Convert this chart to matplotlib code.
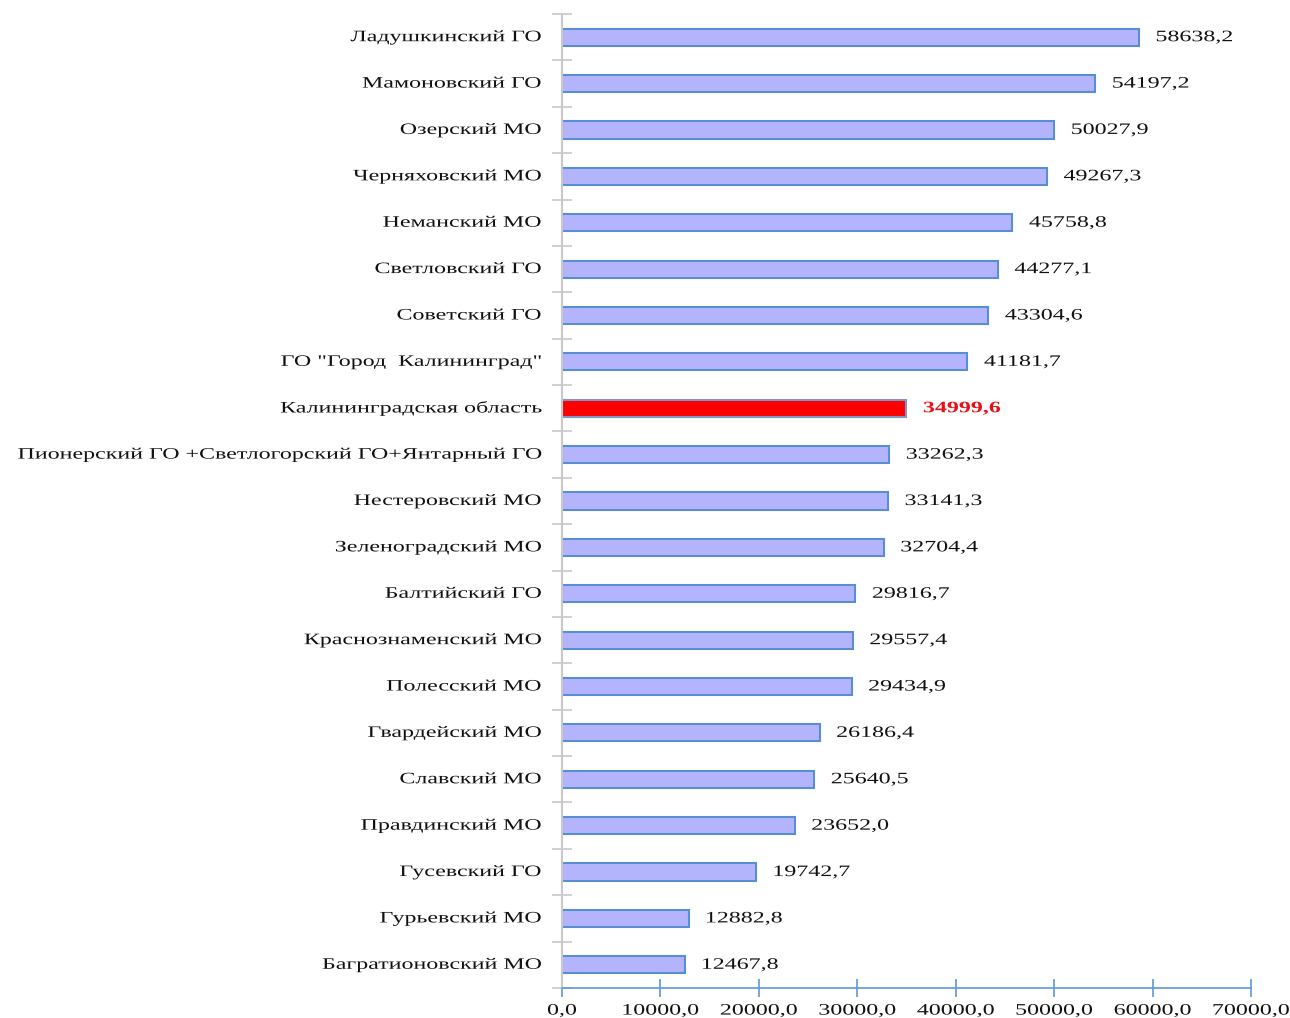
import matplotlib
matplotlib.use("Agg")
import matplotlib.pyplot as plt
from matplotlib.ticker import FixedLocator
from matplotlib.patheffects import AbstractPathEffect
from matplotlib.transforms import Affine2D, blended_transform_factory, offset_copy

categories = [
    "Ладушкинский ГО",
    "Мамоновский ГО",
    "Озерский МО",
    "Черняховский МО",
    "Неманский МО",
    "Светловский ГО",
    "Советский ГО",
    'ГО "Город  Калининград"',
    "Калининградская область",
    "Пионерский ГО +Светлогорский ГО+Янтарный ГО",
    "Нестеровский МО",
    "Зеленоградский МО",
    "Балтийский ГО",
    "Краснознаменский МО",
    "Полесский МО",
    "Гвардейский МО",
    "Славский МО",
    "Правдинский МО",
    "Гусевский ГО",
    "Гурьевский МО",
    "Багратионовский МО",
]
values = [
    58638.2, 54197.2, 50027.9, 49267.3, 45758.8, 44277.1, 43304.6, 41181.7,
    34999.6, 33262.3, 33141.3, 32704.4, 29816.7, 29557.4, 29434.9, 26186.4,
    25640.5, 23652.0, 19742.7, 12882.8, 12467.8,
]
highlight = "Калининградская область"
xticks = [0, 10000, 20000, 30000, 40000, 50000, 60000, 70000]
xtick_labels = ["0,0", "10000,0", "20000,0", "30000,0", "40000,0",
                "50000,0", "60000,0", "70000,0"]


class WideText(AbstractPathEffect):
    """Draw text glyphs widened horizontally about a chosen edge."""

    def __init__(self, sx=1.5, anchor="left"):
        super().__init__()
        self.sx = sx
        self.anchor = anchor

    def draw_path(self, renderer, gc, tpath, affine, rgbFace=None):
        ext = tpath.get_extents(affine)
        if self.anchor == "left":
            ax0 = ext.x0
        elif self.anchor == "right":
            ax0 = ext.x1
        else:
            ax0 = 0.5 * (ext.x0 + ext.x1)
        wide = affine + Affine2D().translate(-ax0, 0).scale(self.sx, 1).translate(ax0, 0)
        renderer.draw_path(gc, tpath, wide, rgbFace)


SX = 1.5
FS = 11.5
plt.rcParams["font.family"] = ["Liberation Serif", "DejaVu Serif"]

fig = plt.figure(figsize=(12.9, 10.18), dpi=100)
ax = fig.add_axes([562 / 1290, 30 / 1018, 689 / 1290, 974 / 1018])

n = len(categories)
ypos = list(range(n))
fills = ["#ff0000" if c == highlight else "#b4b4fc" for c in categories]
edges = ["#7f97c8" if c == highlight else "#5a8ed4" for c in categories]
ax.barh(ypos, values, height=0.37, color=fills, edgecolor=edges, linewidth=1.5, zorder=2)

# value labels to the right of each bar
for y, v, c in zip(ypos, values, categories):
    txt = f"{v:.1f}".replace(".", ",")
    kw = dict(va="center", ha="left", fontsize=FS,
              path_effects=[WideText(SX, "left")])
    if c == highlight:
        ax.text(v + 1700, y, txt, color="#e8101a", fontweight="bold", **kw)
    else:
        ax.text(v + 1700, y, txt, color="#111111", **kw)

# category labels to the left of the axis
lab_tr = offset_copy(blended_transform_factory(ax.transAxes, ax.transData),
                     fig=fig, x=-21, y=0, units="dots")
for y, c in zip(ypos, categories):
    ax.text(0, y, c, transform=lab_tr, ha="right", va="center", fontsize=FS,
            color="#111111", path_effects=[WideText(SX, "right")])

ax.set_ylim(n - 0.5, -0.5)
ax.set_xlim(0, 70000)

ax.set_yticks([])
ax.yaxis.set_minor_locator(FixedLocator([i - 0.5 for i in range(n + 1)]))
ax.tick_params(axis="y", which="minor", direction="inout", length=14, width=1.2,
               color="#c8c8c8")

ax.set_xticks(xticks)
ax.set_xticklabels(xtick_labels)
ax.tick_params(axis="x", direction="inout", length=13, width=1.2, color="#5b9bd5",
               labelsize=FS, labelcolor="#111111", pad=4)
for lab in ax.get_xticklabels():
    lab.set_path_effects([WideText(SX, "center")])

for side in ("top", "right"):
    ax.spines[side].set_visible(False)
ax.spines["left"].set_color("#c8c8c8")
ax.spines["left"].set_linewidth(1.5)
ax.spines["bottom"].set_color("#5b9bd5")
ax.spines["bottom"].set_linewidth(1.2)

fig.savefig("out.png", dpi=100, facecolor="white")
